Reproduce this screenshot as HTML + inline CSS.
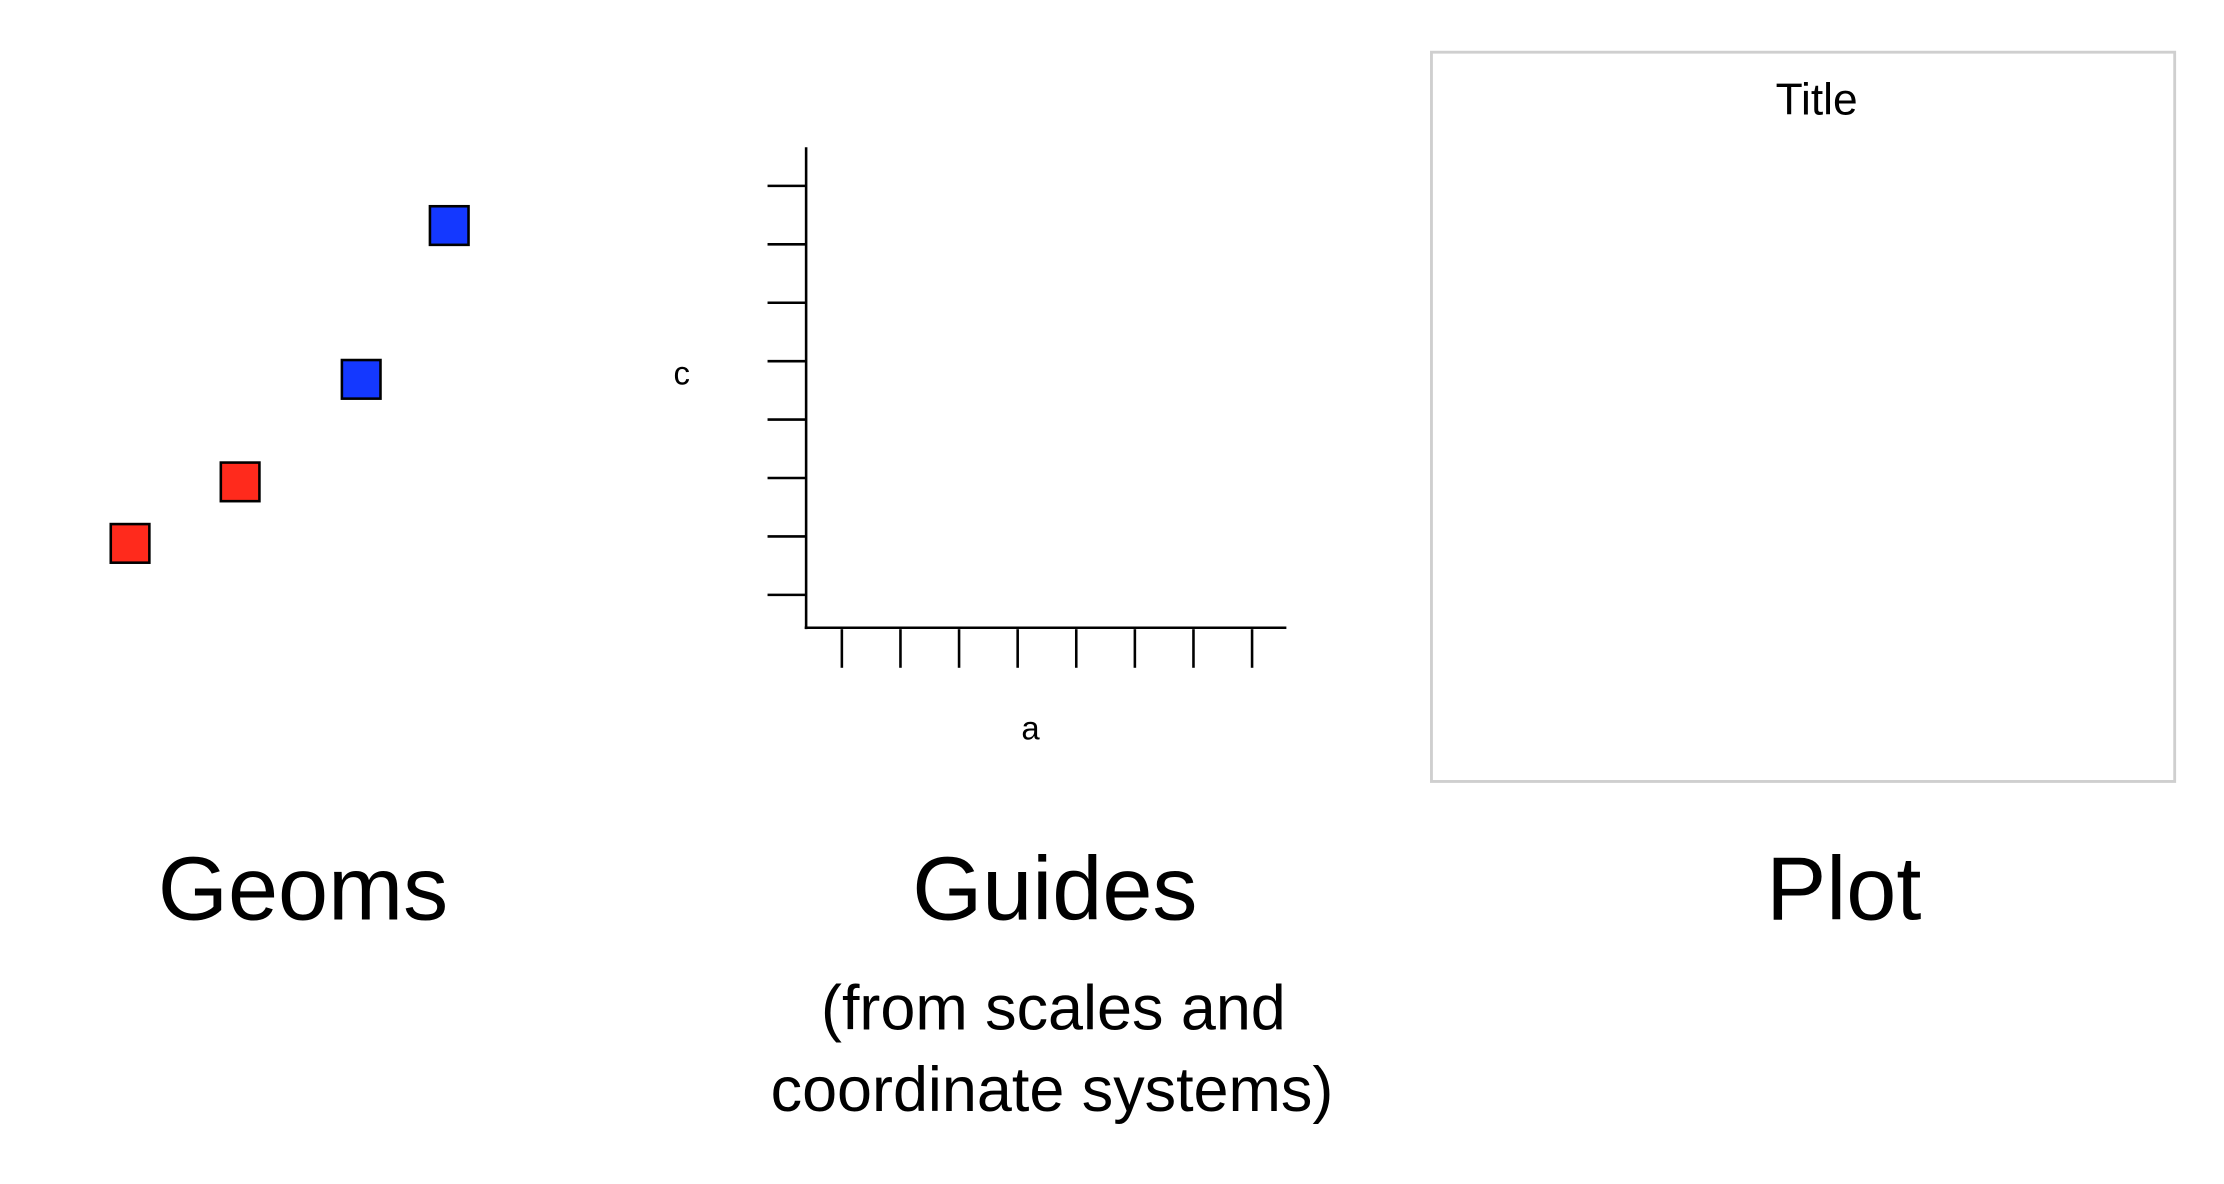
<!DOCTYPE html>
<html><head><meta charset="utf-8"><style>
html,body{margin:0;padding:0;background:#fff;}
svg{display:block;}
</style></head><body>
<svg id="chart" width="2224" height="1184" viewBox="0 0 1556 828" preserveAspectRatio="none" xmlns="http://www.w3.org/2000/svg">
<g id="geoms"></g>
<g id="guides">
  <text x="477" y="269" font-family="Liberation Sans, sans-serif" font-size="23" text-anchor="middle">c</text>
  <text x="721" y="517" font-family="Liberation Sans, sans-serif" font-size="23" text-anchor="middle">a</text>
</g>
<g>
  <rect x="1001.5" y="36.5" width="520" height="510" fill="none" stroke="#cfcfcf" stroke-width="2"/>
  <text x="1271" y="80" font-family="Liberation Sans, sans-serif" font-size="31" text-anchor="middle">Title</text>
</g>
<g font-family="Liberation Sans, sans-serif" text-anchor="middle" fill="#000">
  <text x="212" y="643" font-size="63">Geoms</text>
  <text x="738" y="643" font-size="63">Guides</text>
  <text x="1290" y="643" font-size="63">Plot</text>
  <text x="737" y="720" font-size="44">(from scales and</text>
  <text x="736" y="777" font-size="44">coordinate systems)</text>
</g>
</svg>
<script>
// geoms data
const pointX = [1.0, 2.0, 3.1, 3.9];
const pointY = [1.0, 1.6, 2.6, 4.1];
const pointGroup = ['red', 'red', 'blue', 'blue'];
const groupColors = {red: '#ff2a1c', blue: '#1438ff'};
// guide ticks
const yTicks = [1, 2, 3, 4, 5, 6, 7, 8];
const xTicks = [1, 2, 3, 4, 5, 6, 7, 8];

const NS = 'http://www.w3.org/2000/svg';
const sx = v => 91 + (v - 1) * 77;
const sy = v => 380 - (v - 1) * 71.7;
const gy = t => 416 - (t - 1) * (286 / 7);
const gx = t => 589 + (t - 1) * (287 / 7);

const geoms = document.getElementById('geoms');
pointX.forEach((x, i) => {
  const r = document.createElementNS(NS, 'rect');
  r.setAttribute('x', sx(x) - 13.5);
  r.setAttribute('y', sy(pointY[i]) - 13.5);
  r.setAttribute('width', 27);
  r.setAttribute('height', 27);
  r.setAttribute('fill', groupColors[pointGroup[i]]);
  r.setAttribute('stroke', '#000');
  r.setAttribute('stroke-width', 1.8);
  
  
  geoms.appendChild(r);
});

const guides = document.getElementById('guides');
function line(x1, y1, x2, y2, name) {
  const l = document.createElementNS(NS, 'line');
  l.setAttribute('x1', x1); l.setAttribute('y1', y1);
  l.setAttribute('x2', x2); l.setAttribute('y2', y2);
  l.setAttribute('stroke', '#000'); l.setAttribute('stroke-width', 1.8);
  
  
  guides.appendChild(l);
}
line(564, 103, 564, 440, 'y-axis-line');
line(563, 439, 900, 439, 'x-axis-line');
yTicks.forEach(t => line(537, gy(t), 564, gy(t), 'y-tick'));
xTicks.forEach(t => line(gx(t), 440, gx(t), 467, 'x-tick'));
</script>
</body></html>
